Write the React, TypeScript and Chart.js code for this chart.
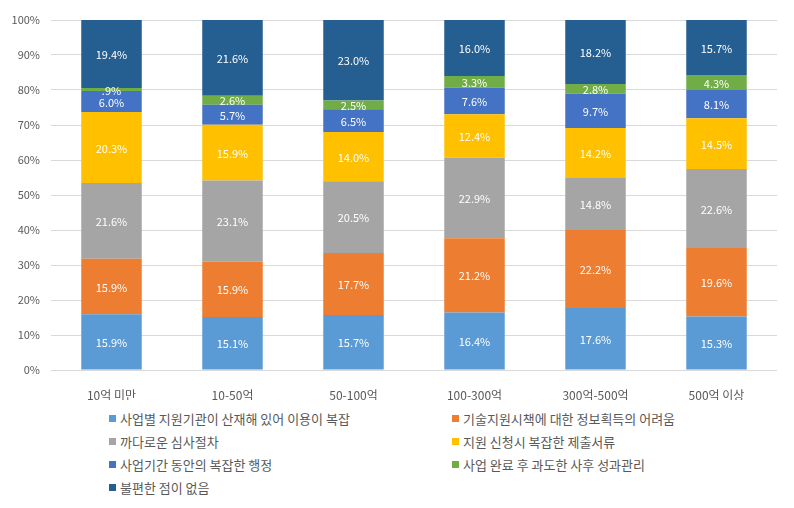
import React, { useEffect, useRef } from "react";
import { Chart, registerables } from "chart.js";

Chart.register(...registerables);

const categories = ["10억 미만", "10-50억", "50-100억", "100-300억", "300억-500억", "500억 이상"];
const seriesNames = [
  "사업별 지원기관이 산재해 있어 이용이 복잡",
  "기술지원시책에 대한 정보획득의 어려움",
  "까다로운 심사절차",
  "지원 신청시 복잡한 제출서류",
  "사업기간 동안의 복잡한 행정",
  "사업 완료 후 과도한 사후 성과관리",
  "불편한 점이 없음",
];
const seriesColors = ["#5B9BD5", "#ED7D31", "#A5A5A5", "#FFC000", "#4472C4", "#70AD47", "#255E91"];
const s1 = [15.9, 15.1, 15.7, 16.4, 17.6, 15.3];
const s2 = [15.9, 15.9, 17.7, 21.2, 22.2, 19.6];
const s3 = [21.6, 23.1, 20.5, 22.9, 14.8, 22.6];
const s4 = [20.3, 15.9, 14.0, 12.4, 14.2, 14.5];
const s5 = [6.0, 5.7, 6.5, 7.6, 9.7, 8.1];
const s6 = [0.9, 2.6, 2.5, 3.3, 2.8, 4.3];
const s7 = [19.4, 21.6, 23.0, 16.0, 18.2, 15.7];
const seriesValues = [s1, s2, s3, s4, s5, s6, s7];

const FONT = "'Noto Sans CJK KR', 'Noto Sans', sans-serif";

// 100% stacked: each column is normalised to its total
const totals = categories.map((_, j) => seriesValues.reduce((a, s) => a + s[j], 0));

function fmt(v: number) {
  let s = v.toFixed(1);
  if (s.startsWith("0")) s = s.slice(1);
  return s + "%";
}

const labelPlugin = {
  id: "barLabels",
  afterDatasetsDraw(chart: any) {
    const ctx = chart.ctx;
    ctx.save();
    ctx.fillStyle = "#FFFFFF";
    ctx.font = `11px ${FONT}`;
    ctx.textAlign = "center";
    ctx.textBaseline = "middle";
    chart.data.datasets.forEach((ds: any, i: number) => {
      const meta = chart.getDatasetMeta(i);
      meta.data.forEach((el: any, j: number) => {
        const v = ds.raw[j];
        const y = (el.y + el.base) / 2;
        ctx.fillText(fmt(v), el.x, y + 1);
      });
    });
    ctx.restore();
  },
};

export default function App() {
  const ref = useRef<HTMLCanvasElement>(null);
  useEffect(() => {
    document.body.style.margin = "0";
    const chart = new Chart(ref.current!, {
      type: "bar",
      data: {
        labels: categories,
        datasets: seriesValues.map((d, i) => ({
          label: seriesNames[i],
          data: d.map((v, j) => (v / totals[j]) * 100),
          raw: d,
          backgroundColor: seriesColors[i],
          borderWidth: 0,
          barPercentage: 0.5,
          categoryPercentage: 1,
        })) as any,
      },
      options: {
        animation: false,
        responsive: false,
        layout: { padding: { top: 20, right: 17, bottom: 0, left: 0 } },
        plugins: { legend: { display: false }, tooltip: { enabled: false } },
        scales: {
          x: {
            stacked: true,
            grid: { display: false },
            border: { display: false },
            ticks: { color: "#595959", font: { family: FONT, size: 12 }, padding: 10 },
            afterFit: (s: any) => { s.height = 30; },
          },
          y: {
            stacked: true,
            min: 0,
            max: 100,
            ticks: {
              stepSize: 10,
              color: "#595959",
              font: { family: FONT, size: 11 },
              padding: 11,
              callback: (v: any) => v + "%",
            },
            grid: { color: "#D9D9D9", drawTicks: false },
            border: { display: false },
            afterFit: (s: any) => { s.width = 51; },
          },
        },
      },
      plugins: [labelPlugin],
    });
    return () => chart.destroy();
  }, []);

  return (
    <div style={{ position: "relative", width: 794, height: 508, background: "#fff" }}>
      <canvas ref={ref} width={794} height={400} style={{ display: "block" }} />
      <div
        style={{
          position: "absolute",
          left: 109,
          top: 407,
          display: "grid",
          gridTemplateColumns: "343px 300px",
          gridAutoRows: "23px",
          fontFamily: FONT,
          fontSize: 13,
          color: "#595959",
        }}
      >
        {seriesNames.map((n, i) => (
          <div key={i} style={{ display: "flex", alignItems: "center", whiteSpace: "nowrap" }}>
            <span style={{ display: "inline-block", width: 7, height: 7, background: seriesColors[i], marginRight: 4 }} />
            <span>{n}</span>
          </div>
        ))}
      </div>
    </div>
  );
}
